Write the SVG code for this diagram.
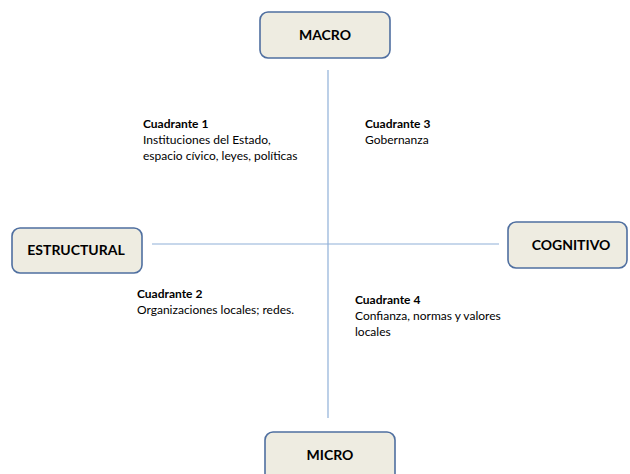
<svg xmlns="http://www.w3.org/2000/svg" width="630" height="474" viewBox="0 0 630 474">
<style>
.box{fill:#eeece1;stroke:#4f6fa0;stroke-width:1.6}
.bt{font-family:Lato,"Liberation Sans",Arial,sans-serif;font-size:14px;font-weight:bold;fill:#000;text-anchor:middle}
.h{font-family:Lato,"Liberation Sans",Arial,sans-serif;font-size:12px;font-weight:bold;fill:#000}
.t{font-family:Lato,"Liberation Sans",Arial,sans-serif;font-size:12px;fill:#000}
.ax{stroke:#8fb0d8;stroke-width:1.2;fill:none}
</style>
<rect width="630" height="474" fill="#fff"/>
<g id="connectors">
<line class="ax" x1="328" y1="70" x2="328" y2="418"/>
<line class="ax" x1="152" y1="244" x2="499" y2="244"/>
</g>
<g id="macro">
<rect class="box" x="260" y="12" width="130" height="46" rx="8"/>
<text class="bt" x="325" y="40">MACRO</text>
</g>
<g id="estructural">
<rect class="box" x="12" y="228" width="130" height="45" rx="8"/>
<text class="bt" x="76" y="255">ESTRUCTURAL</text>
</g>
<g id="cognitivo">
<rect class="box" x="508" y="222" width="119" height="46" rx="8"/>
<text class="bt" x="571" y="250">COGNITIVO</text>
</g>
<g id="micro">
<rect class="box" x="265" y="432" width="130" height="50" rx="8"/>
<text class="bt" x="330" y="460">MICRO</text>
</g>
<g id="q1">
<text class="h" x="143" y="128">Cuadrante 1</text>
<text class="t" x="143" y="144">Instituciones del Estado,</text>
<text class="t" x="143" y="160">espacio cívico, leyes, políticas</text>
</g>
<g id="q3">
<text class="h" x="365" y="128">Cuadrante 3</text>
<text class="t" x="365" y="144">Gobernanza</text>
</g>
<g id="q2">
<text class="h" x="137" y="298">Cuadrante 2</text>
<text class="t" x="137" y="314">Organizaciones locales; redes.</text>
</g>
<g id="q4">
<text class="h" x="355" y="304">Cuadrante 4</text>
<text class="t" x="355" y="320">Confianza, normas y valores</text>
<text class="t" x="355" y="336">locales</text>
</g>
</svg>
